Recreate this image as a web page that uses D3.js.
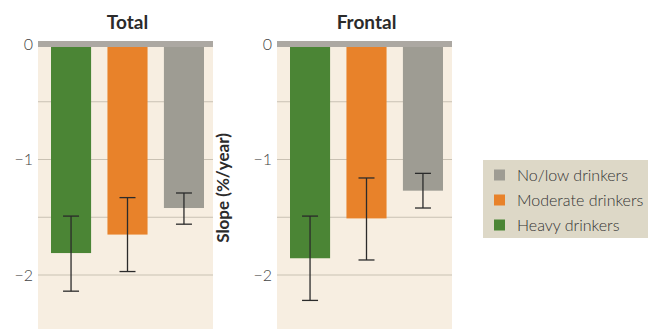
<!DOCTYPE html>
<html>
<head>
<meta charset="utf-8">
<script src="https://cdn.jsdelivr.net/npm/d3@7"></script>
<style>
  body { margin: 0; background: #fff; }
  text { font-family: Lato, "Open Sans", sans-serif; }
</style>
</head>
<body>
<div id="chart"></div>
<script>
var width = 648
var height = 329

// data
var groups = ['Heavy drinkers', 'Moderate drinkers', 'No/low drinkers']
var colors = ['#4b8535', '#e8822a', '#9e9c93']
var panels = ['Total', 'Frontal']
var slopeTotal = [-1.81, -1.65, -1.42]
var lowTotal = [-2.14, -1.97, -1.56]
var highTotal = [-1.49, -1.33, -1.29]
var slopeFrontal = [-1.855, -1.51, -1.27]
var lowFrontal = [-2.22, -1.87, -1.42]
var highFrontal = [-1.49, -1.16, -1.12]
var yTicks = [0, -1, -2]
var gridTicks = [-0.5, -1, -1.5, -2]
var legendOrder = ['No/low drinkers', 'Moderate drinkers', 'Heavy drinkers']

var svg = d3.select('#chart')
    .append('svg')
    .attr('width', width)
    .attr('height', height)

var top0 = 44
var yScale = d3.scaleLinear()
    .domain([0, -1])
    .range([top0, top0 + 115.5])

var panelData = [
    { name: panels[0], x0: 38, x1: 213, slope: slopeTotal, low: lowTotal, high: highTotal },
    { name: panels[1], x0: 277, x1: 452, slope: slopeFrontal, low: lowFrontal, high: highFrontal }
]

panelData.forEach(function (p) {
    var g = svg.append('g')

    var xScale = d3.scaleBand()
        .domain(groups)
        .range([p.x0 + 13, p.x1 - 9])
        .paddingInner(0.29)
        .paddingOuter(0)

    g.append('rect')
        .attr('x', p.x0)
        .attr('y', top0)
        .attr('width', p.x1 - p.x0)
        .attr('height', height - top0)
        .attr('fill', '#f7eee1')

    g.selectAll('.grid')
        .data(gridTicks)
        .enter()
        .append('line')
        .attr('x1', p.x0)
        .attr('x2', p.x1)
        .attr('y1', (d) => yScale(d))
        .attr('y2', (d) => yScale(d))
        .attr('stroke', '#c9c1b3')
        .attr('stroke-width', 1.2)

    var yAxis = d3.axisLeft(yScale)
        .tickValues(yTicks)
        .tickSize(0)
        .tickPadding(5)
        .tickFormat((d) => d === 0 ? '0' : '\u2212' + Math.abs(d))

    var ax = g.append('g')
        .attr('transform', 'translate(' + p.x0 + ',0)')
        .call(yAxis)
    ax.select('.domain').remove()
    ax.selectAll('text')
        .attr('font-size', 16)
        .attr('font-weight', 300)
        .attr('fill', '#444')
        .style('font-family', 'Lato, sans-serif')

    g.selectAll('.bar')
        .data(groups)
        .enter()
        .append('rect')
        .attr('x', (d) => xScale(d))
        .attr('y', yScale(0) + 3)
        .attr('width', xScale.bandwidth())
        .attr('height', (d, i) => yScale(p.slope[i]) - yScale(0) - 3)
        .attr('fill', (d, i) => colors[i])

    // zero band
    g.append('rect')
        .attr('x', p.x0)
        .attr('y', yScale(0) - 3)
        .attr('width', p.x1 - p.x0)
        .attr('height', 6)
        .attr('fill', '#aca8a2')

    var err = g.selectAll('.err')
        .data(groups)
        .enter()
        .append('g')
        .attr('stroke', '#2b2b2b')
        .attr('stroke-width', 1.3)

    err.append('line')
        .attr('x1', (d) => xScale(d) + xScale.bandwidth() / 2)
        .attr('x2', (d) => xScale(d) + xScale.bandwidth() / 2)
        .attr('y1', (d, i) => yScale(p.high[i]))
        .attr('y2', (d, i) => yScale(p.low[i]))
    err.append('line')
        .attr('x1', (d) => xScale(d) + xScale.bandwidth() / 2 - 8)
        .attr('x2', (d) => xScale(d) + xScale.bandwidth() / 2 + 8)
        .attr('y1', (d, i) => yScale(p.high[i]))
        .attr('y2', (d, i) => yScale(p.high[i]))
    err.append('line')
        .attr('x1', (d) => xScale(d) + xScale.bandwidth() / 2 - 8)
        .attr('x2', (d) => xScale(d) + xScale.bandwidth() / 2 + 8)
        .attr('y1', (d, i) => yScale(p.low[i]))
        .attr('y2', (d, i) => yScale(p.low[i]))

    g.append('text')
        .attr('x', (p.x0 + p.x1) / 2 + 2)
        .attr('y', 29)
        .attr('text-anchor', 'middle')
        .attr('font-size', 19)
        .attr('font-weight', 700)
        .attr('fill', '#2b2b2b')
        .text(p.name)
})

// y label
svg.append('text')
    .attr('transform', 'translate(229,188)rotate(-90)')
    .attr('text-anchor', 'middle')
    .attr('font-size', 17)
    .attr('font-weight', 700)
    .attr('fill', '#2b2b2b')
    .text('Slope (%/year)')

// legend
var legend = svg.append('g')
    .attr('transform', 'translate(483,160)')

legend.append('rect')
    .attr('width', 165)
    .attr('height', 78)
    .attr('fill', '#ddd8c7')

legend.selectAll('.item')
    .data(legendOrder)
    .enter()
    .append('g')
    .attr('transform', (d, i) => 'translate(11,' + (15 + i * 25) + ')')
    .each(function (d) {
        var item = d3.select(this)
        item.append('rect')
            .attr('x', 0)
            .attr('y', -5.5)
            .attr('width', 11)
            .attr('height', 11)
            .attr('fill', colors[groups.indexOf(d)])
        item.append('text')
            .attr('x', 23)
            .attr('y', 5.5)
            .attr('font-size', 16)
            .attr('font-weight', 300)
            .attr('fill', '#333')
            .text(d)
    })
</script>
</body>
</html>
